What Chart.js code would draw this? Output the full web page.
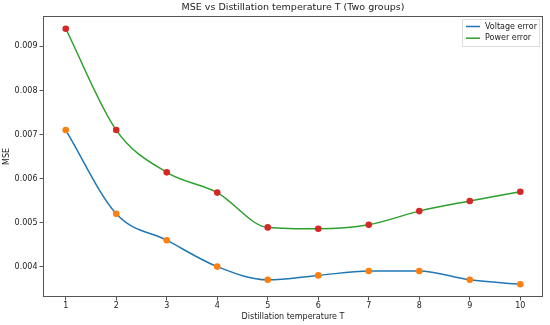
<!DOCTYPE html>
<html lang="en">
<head>
    <meta charset="UTF-8">
    <title>MSE vs Distillation temperature T (Two groups)</title>
    <script src="https://cdn.jsdelivr.net/npm/chart.js"></script>
    <style>
        html, body { margin: 0; padding: 0; background: #fff; }
        #wrap { width: 550px; height: 325px; position: relative; }
    </style>
</head>
<body>
    <div id="wrap">
        <canvas id="mseChart" width="550" height="325"></canvas>
    </div>

    <script>
        // values
        const temperatures = [1, 2, 3, 4, 5, 6, 7, 8, 9, 10];
        const voltageError = [0.0071, 0.0052, 0.0046, 0.0040, 0.0037, 0.0038, 0.0039, 0.0039, 0.0037, 0.0036];
        const powerError = [0.0094, 0.0071, 0.00614, 0.00568, 0.00489, 0.00486, 0.00495, 0.00526, 0.00549, 0.0057];
        const yTicks = [0.004, 0.005, 0.006, 0.007, 0.008, 0.009];

        const FONT = 'DejaVu Sans';
        const pts = arr => temperatures.map((t, i) => ({ x: t, y: arr[i] }));

        // frame, title and legend in matplotlib style
        const decorPlugin = {
            id: 'decor',
            afterDraw(chart) {
                const { ctx, chartArea: a } = chart;
                ctx.save();
                ctx.strokeStyle = '#555';
                ctx.lineWidth = 1;
                ctx.strokeRect(a.left + 0.5, a.top + 0.5, a.right - a.left - 1, a.bottom - a.top - 1);

                ctx.fillStyle = '#222';
                ctx.font = '9.5px ' + FONT;
                ctx.textAlign = 'center';
                ctx.textBaseline = 'middle';
                ctx.fillText('MSE vs Distillation temperature T (Two groups)', (a.left + a.right) / 2, 8);

                // legend box
                const bx = 462, by = 19, bw = 77, bh = 27;
                ctx.fillStyle = 'rgba(255,255,255,0.8)';
                ctx.strokeStyle = '#ddd';
                ctx.fillRect(bx, by, bw, bh);
                ctx.strokeRect(bx + 0.5, by + 0.5, bw, bh);
                const items = [['Voltage error', '#1f77b4'], ['Power error', '#2ca02c']];
                ctx.font = '8px ' + FONT;
                ctx.textAlign = 'left';
                items.forEach((it, i) => {
                    const y = by + 7.5 + i * 11.7;
                    ctx.strokeStyle = it[1];
                    ctx.lineWidth = 1.5;
                    ctx.beginPath();
                    ctx.moveTo(bx + 4, y);
                    ctx.lineTo(bx + 18, y);
                    ctx.stroke();
                    ctx.fillStyle = '#222';
                    ctx.fillText(it[0], bx + 23, y);
                });
                ctx.restore();
            }
        };

        new Chart(document.getElementById('mseChart'), {
            type: 'scatter',
            data: {
                datasets: [
                    { label: 'Voltage error', data: pts(voltageError), showLine: true, borderColor: '#1f77b4', borderWidth: 1.5, pointRadius: 0, cubicInterpolationMode: 'monotone', order: 2 },
                    { label: 'Power error', data: pts(powerError), showLine: true, borderColor: '#2ca02c', borderWidth: 1.5, pointRadius: 0, cubicInterpolationMode: 'monotone', order: 2 },
                    { data: pts(voltageError), showLine: false, backgroundColor: '#ff7f0e', borderWidth: 0, pointRadius: 3.3, order: 1 },
                    { data: pts(powerError), showLine: false, backgroundColor: '#d62728', borderWidth: 0, pointRadius: 3.3, order: 1 }
                ]
            },
            options: {
                responsive: false,
                animation: false,
                layout: { padding: { top: 16, right: 7, left: 0, bottom: 0 } },
                plugins: { legend: { display: false }, title: { display: false }, tooltip: { enabled: false } },
                scales: {
                    x: {
                        type: 'linear',
                        min: 0.55, max: 10.45,
                        afterFit: s => { s.height = 28; },
                        afterBuildTicks: s => { s.ticks = temperatures.map(v => ({ value: v })); },
                        grid: { drawOnChartArea: false, drawTicks: true, tickLength: 3.5, color: '#555' },
                        border: { display: false },
                        ticks: { color: '#222', font: { family: FONT, size: 8 }, padding: 1, maxRotation: 0, callback: v => String(v) },
                        title: { display: true, text: 'Distillation temperature T', color: '#222', font: { family: FONT, size: 8 }, padding: { top: 0, bottom: 3 } }
                    },
                    y: {
                        min: 0.00331, max: 0.00969,
                        afterFit: s => { s.width = 43; },
                        afterBuildTicks: s => { s.ticks = yTicks.map(v => ({ value: v })); },
                        grid: { drawOnChartArea: false, drawTicks: true, tickLength: 3.5, color: '#555' },
                        border: { display: false },
                        ticks: { color: '#222', font: { family: FONT, size: 8 }, padding: 2, callback: v => v.toFixed(3) },
                        title: { display: true, text: 'MSE', color: '#222', font: { family: FONT, size: 8 }, padding: { top: 2, bottom: 0 } }
                    }
                }
            },
            plugins: [decorPlugin]
        });
    </script>
</body>
</html>
